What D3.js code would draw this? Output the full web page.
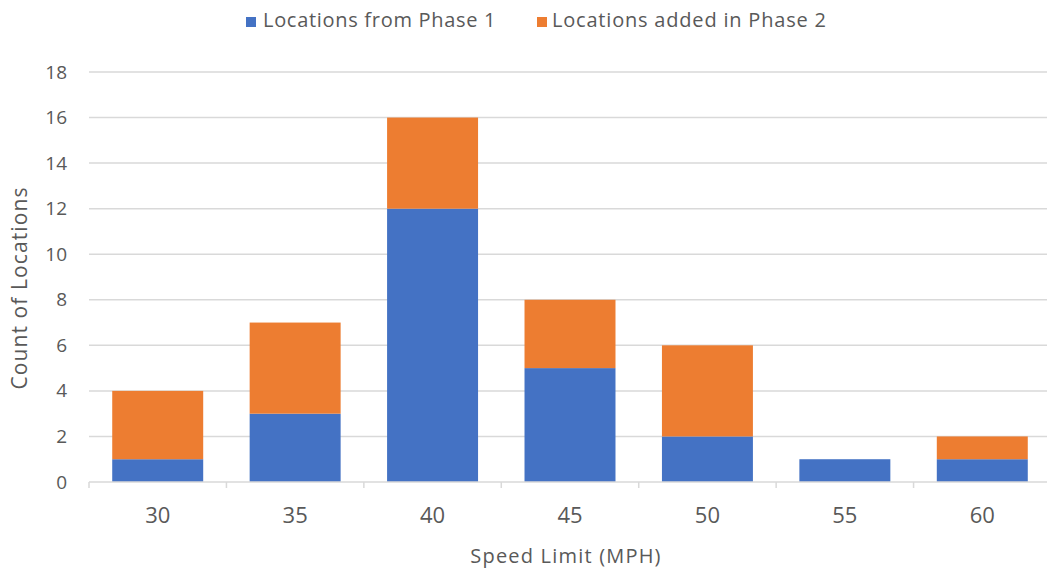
<!DOCTYPE html>
<html>
<head>
<meta charset="utf-8">
<script src="https://cdn.jsdelivr.net/npm/d3@7"></script>
<style>
  html, body { margin: 0; padding: 0; background: #fff; }
  svg { display: block; }
</style>
</head>
<body>
<div id="chart"></div>
<script>
// Speed limit categories and stacked counts
const speedLimits = ['30', '35', '40', '45', '50', '55', '60'];
const phase1 = [1, 3, 12, 5, 2, 1, 1];
const phase2 = [3, 4, 4, 3, 4, 0, 1];
const yTicks = [0, 2, 4, 6, 8, 10, 12, 14, 16, 18];
const seriesNames = ['Locations from Phase 1', 'Locations added in Phase 2'];

const COLORS = ['#4472C4', '#ED7D31'];
const TEXT = '#595959';
const GRID = '#d9d9d9';
const FONT = "'Open Sans', sans-serif";

const width = 1047, height = 571;
const margin = { top: 72, right: -4, bottom: 89, left: 89 };

const svg = d3.select('#chart').append('svg')
  .attr('width', width)
  .attr('height', height)
  .attr('viewBox', `0 0 ${width} ${height}`);

const x = d3.scaleBand()
  .domain(speedLimits)
  .range([margin.left, width - margin.right])
  .paddingInner(0.338)
  .paddingOuter(0.169);

const y = d3.scaleLinear()
  .domain([0, 18])
  .range([height - margin.bottom, margin.top]);

// Gridlines
svg.append('g')
  .selectAll('line')
  .data(yTicks.filter(d => d > 0))
  .join('line')
  .attr('x1', margin.left)
  .attr('x2', width)
  .attr('y1', d => y(d))
  .attr('y2', d => y(d))
  .attr('stroke', GRID)
  .attr('stroke-width', 1.5);

// Y tick labels
svg.append('g')
  .selectAll('text')
  .data(yTicks)
  .join('text')
  .attr('x', 67)
  .attr('y', d => y(d) + 6.5)
  .attr('text-anchor', 'end')
  .attr('fill', TEXT)
  .attr('font-size', 19)
  .attr('font-family', FONT)
  .text(d => d);

// Stack data
const rows = speedLimits.map((s, i) => ({ speed: s, p1: phase1[i], p2: phase2[i] }));
const stack = d3.stack().keys(['p1', 'p2'])(rows);

svg.append('g')
  .selectAll('g')
  .data(stack)
  .join('g')
  .attr('fill', (d, i) => COLORS[i])
  .selectAll('rect')
  .data(d => d)
  .join('rect')
  .attr('x', d => x(d.data.speed))
  .attr('width', x.bandwidth())
  .attr('y', d => y(d[1]))
  .attr('height', d => y(d[0]) - y(d[1]));

// X axis line and category separators
const x0 = y(0);
svg.append('line')
  .attr('x1', margin.left).attr('x2', width)
  .attr('y1', x0).attr('y2', x0)
  .attr('stroke', GRID).attr('stroke-width', 1.5);

const step = x.step();
svg.append('g')
  .selectAll('line')
  .data(speedLimits)
  .join('line')
  .attr('x1', d => x(d) - x.paddingInner() * step / 2)
  .attr('x2', d => x(d) - x.paddingInner() * step / 2)
  .attr('y1', x0)
  .attr('y2', x0 + 6)
  .attr('stroke', GRID)
  .attr('stroke-width', 1.5);

// X tick labels
svg.append('g')
  .selectAll('text')
  .data(speedLimits)
  .join('text')
  .attr('x', d => x(d) + x.bandwidth() / 2)
  .attr('y', 523)
  .attr('text-anchor', 'middle')
  .attr('fill', TEXT)
  .attr('font-size', 22)
  .attr('font-family', FONT)
  .text(d => d);

// Axis titles
svg.append('text')
  .attr('x', 566)
  .attr('y', 563)
  .attr('text-anchor', 'middle')
  .attr('fill', TEXT)
  .attr('font-size', 20)
  .attr('letter-spacing', 1.2)
  .attr('font-family', FONT)
  .text('Speed Limit (MPH)');

svg.append('text')
  .attr('transform', `translate(27, 288) rotate(-90)`)
  .attr('text-anchor', 'middle')
  .attr('fill', TEXT)
  .attr('font-size', 21)
  .attr('letter-spacing', 1.1)
  .attr('font-family', FONT)
  .text('Count of Locations');

// Legend
const legendPos = [246, 537];
const legend = svg.append('g')
  .selectAll('g')
  .data(seriesNames)
  .join('g')
  .attr('transform', (d, i) => `translate(${legendPos[i]}, 0)`);

legend.append('rect')
  .attr('x', 0).attr('y', 17)
  .attr('width', 10).attr('height', 10)
  .attr('fill', (d, i) => COLORS[i]);

legend.append('text')
  .attr('x', (d, i) => i === 0 ? 17 : 15)
  .attr('y', 27)
  .attr('fill', TEXT)
  .attr('font-size', 20)
  .attr('letter-spacing', (d, i) => i === 0 ? 0.7 : 0.8)
  .attr('font-family', FONT)
  .text(d => d);
</script>
</body>
</html>
